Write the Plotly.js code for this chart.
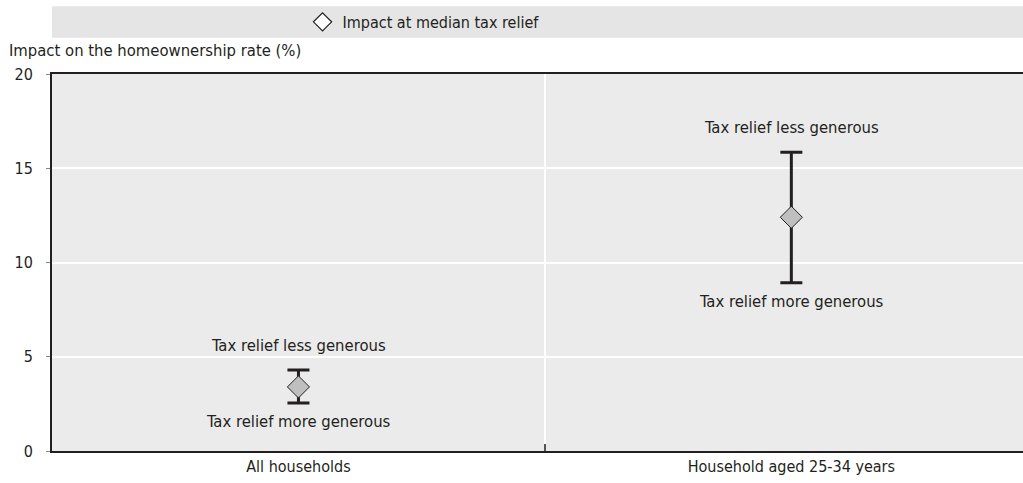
<!DOCTYPE html>
<html>
<head>
<meta charset="utf-8">
<script src="https://cdn.plot.ly/plotly-3.0.1.min.js"></script>
<style>html,body{margin:0;padding:0;background:#fff;}#chart{width:1023px;height:483px;}</style>
</head>
<body>
<div id="chart"></div>
<script>
const categories = ["All households", "Household aged 25-34 years"];
const medianImpact = [3.4, 12.4];
const upperImpact = [4.3, 15.85];   // Tax relief less generous
const lowerImpact = [2.55, 8.93];   // Tax relief more generous
const upperLabel = "Tax relief less generous";
const lowerLabel = "Tax relief more generous";
const legendLabel = "Impact at median tax relief";
const yTicks = [0, 5, 10, 15, 20];

const FONT = '"Liberation Sans Narrow", "Arial Narrow", "DejaVu Sans Condensed", sans-serif';
const DARK = '#231f20';

const plus = upperImpact.map((u, i) => u - medianImpact[i]);
const minus = medianImpact.map((m, i) => m - lowerImpact[i]);

const main = {
  type: 'scatter', mode: 'markers',
  x: categories, y: medianImpact,
  showlegend: false,
  marker: {symbol: 'diamond', size: 17, color: '#bfbfbf', line: {color: DARK, width: 1}},
  error_y: {type: 'data', array: plus, arrayminus: minus, visible: true,
            color: DARK, thickness: 3, width: 11},
  hoverinfo: 'x+y'
};
const legendTrace = {
  type: 'scatter', mode: 'markers',
  x: [null], y: [null], name: legendLabel,
  marker: {symbol: 'diamond', size: 14, color: '#ffffff', line: {color: DARK, width: 1.2}}
};

const annotations = [];
categories.forEach((c, i) => {
  annotations.push({x: c, y: upperImpact[i], xref: 'x', yref: 'y', text: upperLabel,
    showarrow: false, yanchor: 'bottom', yshift: 13, font: {family: FONT, size: 16.5, color: DARK}});
  annotations.push({x: c, y: lowerImpact[i], xref: 'x', yref: 'y', text: lowerLabel,
    showarrow: false, yanchor: 'top', yshift: -7, font: {family: FONT, size: 16.5, color: DARK}});
});
annotations.push({xref: 'paper', yref: 'paper', x: -0.046, y: 1, yshift: 24, xanchor: 'left', yanchor: 'middle',
  text: 'Impact on the homeownership rate (%)', showarrow: false, font: {family: FONT, size: 16.5, color: DARK}});

const layout = {
  width: 1023, height: 483,
  margin: {l: 52, r: 0, t: 74, b: 32},
  paper_bgcolor: '#ffffff', plot_bgcolor: '#ebebeb',
  font: {family: FONT, size: 16, color: DARK},
  showlegend: true,
  legend: {orientation: 'h', x: 0.258, xanchor: 'left', y: 1.138, yanchor: 'middle', yref: 'paper',
           itemwidth: 30,
           bgcolor: 'rgba(0,0,0,0)', font: {family: FONT, size: 16, color: DARK}},
  xaxis: {
    type: 'category', range: [-0.5, 1.47], tickson: 'boundaries',
    showgrid: true, gridcolor: '#ffffff', gridwidth: 2,
    ticks: 'inside', ticklen: 7, tickwidth: 2, tickcolor: '#555',
    showline: true, linecolor: DARK, linewidth: 2, mirror: true,
    zeroline: false, tickfont: {family: FONT, size: 16, color: DARK}, fixedrange: true
  },
  yaxis: {
    range: [0, 20], tickvals: yTicks, ticktext: yTicks.map(String),
    showgrid: true, gridcolor: '#ffffff', gridwidth: 2,
    ticks: 'outside', ticklen: 4, tickwidth: 1, tickcolor: '#888',
    showline: true, linecolor: DARK, linewidth: 2, zeroline: false,
    ticklabelstandoff: 10,
    tickfont: {family: FONT, size: 16, color: DARK}, fixedrange: true
  },
  shapes: [{type: 'rect', xref: 'paper', yref: 'paper', x0: 0, x1: 1.01, y0: 1.096, y1: 1.18,
            fillcolor: '#e5e5e5', line: {width: 0}, layer: 'below'}],
  annotations: annotations
};

Plotly.newPlot('chart', [main, legendTrace], layout, {displayModeBar: false, staticPlot: true});
</script>
</body>
</html>
